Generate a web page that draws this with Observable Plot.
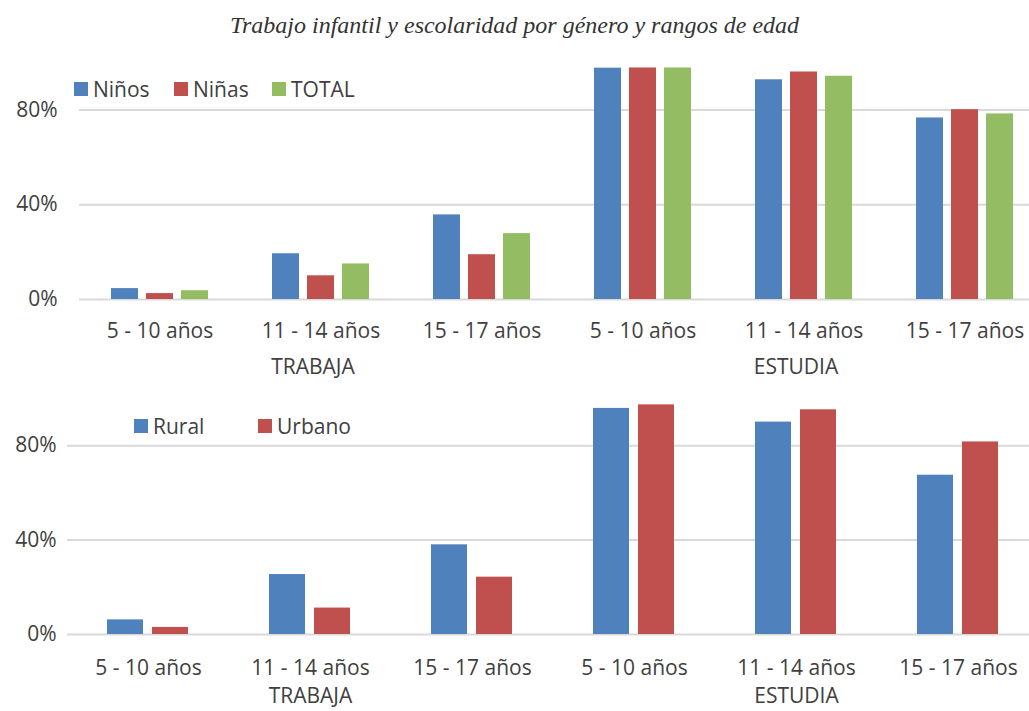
<!DOCTYPE html>
<html>
<head>
<meta charset="utf-8">
<script src="https://cdn.jsdelivr.net/npm/d3@7"></script>
<script src="https://cdn.jsdelivr.net/npm/@observablehq/plot@0.6"></script>
<style>
html, body { margin: 0; padding: 0; overflow: hidden; background: #fff; width: 1029px; height: 711px; }
#root { position: relative; width: 1029px; height: 711px; overflow: hidden; font-family: "Open Sans", sans-serif; color: #404040; }
.title { position: absolute; left: 0; top: 12px; width: 1029px; line-height: 30px; text-align: center;
  font: italic 24px "Liberation Serif", serif; color: #333; }
.chart { position: absolute; left: 0; max-width: none !important; }
.leg { position: absolute; display: flex; align-items: center; font-size: 21px; line-height: 26px; color: #404040; white-space: nowrap; }
.sw { width: 14px; height: 14px; margin-right: 5px; }
</style>
</head>
<body>
<div id="root"></div>
<script>
// ---- data ----
const title = "Trabajo infantil y escolaridad por género y rangos de edad";
const ageGroups = ["5 - 10 años", "11 - 14 años", "15 - 17 años"];
const activities = ["TRABAJA", "ESTUDIA"];
const yTicks = [0, 40, 80];

// chart 1: by gender (percent)
const genderSeries = ["Niños", "Niñas", "TOTAL"];
const genderColors = ["#4F81BD", "#C0504D", "#94BC62"];
const ninos = [4.6, 19.3, 35.7, 97.6, 92.7, 76.6];
const ninas = [2.5, 10.0, 18.9, 97.7, 96.0, 80.1];
const total = [3.7, 15.0, 27.8, 97.7, 94.2, 78.3];

// chart 2: by area (percent)
const areaSeries = ["Rural", "Urbano"];
const areaColors = ["#4F81BD", "#C0504D"];
const rural = [6.2, 25.4, 38.0, 95.8, 90.0, 67.5];
const urbano = [3.0, 11.2, 24.3, 97.3, 95.2, 81.6];

// ---- build ----
const keys = activities.flatMap(a => ageGroups.map(g => a + "|" + g));
const keyLabel = k => k.split("|")[1];

function groupedChart(opts) {
  const {series, values, colors, width, height, marginLeft, marginRight, marginTop, marginBottom,
         yPad, fxPad, pInner, pOuter, labelDx, labelDy} = opts;
  const rows = keys.flatMap((k, i) => series.map((s, j) => ({key: k, series: s, value: values[j][i]})));
  const labelRows = activities.map((a, i) => ({key: keys[i * ageGroups.length + 1], label: a}));
  return Plot.plot({
    width, height, marginLeft, marginRight, marginTop, marginBottom,
    style: {fontFamily: "Open Sans, sans-serif", fontSize: "21px", color: "#404040", background: "transparent",
            overflow: "visible", maxWidth: "none"},
    fx: {domain: keys, padding: 0, axis: "bottom", tickSize: 0, tickPadding: fxPad, tickFormat: keyLabel, label: null},
    x: {domain: series, axis: null, paddingInner: pInner, paddingOuter: pOuter},
    y: {domain: [0, 100], ticks: yTicks, tickFormat: d => d + "%", tickSize: 0, tickPadding: yPad, label: null},
    color: {domain: series, range: colors},
    marks: [
      Plot.ruleY(yTicks, {stroke: "#d9d9d9", strokeWidth: 2}),
      Plot.barY(rows, {fx: "key", x: "series", y: "value", fill: "series"}),
      Plot.text(labelRows, {fx: "key", text: "label", frameAnchor: "bottom", dy: labelDy, dx: labelDx, lineAnchor: "middle"})
    ]
  });
}

function legend(series, colors, positions, top) {
  const frag = document.createDocumentFragment();
  series.forEach((s, i) => {
    const d = document.createElement("div");
    d.className = "leg";
    d.style.left = positions[i] + "px";
    d.style.top = top + "px";
    const sw = document.createElement("div");
    sw.className = "sw";
    sw.style.background = colors[i];
    d.appendChild(sw);
    d.appendChild(document.createTextNode(s));
    frag.appendChild(d);
  });
  return frag;
}

const root = document.getElementById("root");
const t = document.createElement("div");
t.className = "title";
t.textContent = title;
root.appendChild(t);

const c1 = groupedChart({
  series: genderSeries, values: [ninos, ninas, total], colors: genderColors,
  width: 1047, height: 329, marginLeft: 78, marginRight: 1, marginTop: 12, marginBottom: 80,
  yPad: 22, fxPad: 24, pInner: 0.222, pOuter: 0.852, labelDx: -8, labelDy: 68
});
c1.classList.add("chart");
c1.style.top = "50px";
c1.style.maxWidth = "none";
root.appendChild(c1);

const c2 = groupedChart({
  series: areaSeries, values: [rural, urbano], colors: areaColors,
  width: 1039, height: 326, marginLeft: 67, marginRight: 0, marginTop: 13, marginBottom: 77,
  yPad: 11, fxPad: 26, pInner: 0.196, pOuter: 0.859, labelDx: 0, labelDy: 62
});
c2.classList.add("chart");
c2.style.top = "385px";
c2.style.maxWidth = "none";
root.appendChild(c2);

root.appendChild(legend(genderSeries, genderColors, [74, 174, 272], 76));
root.appendChild(legend(areaSeries, areaColors, [134, 258], 413));
</script>
</body>
</html>
